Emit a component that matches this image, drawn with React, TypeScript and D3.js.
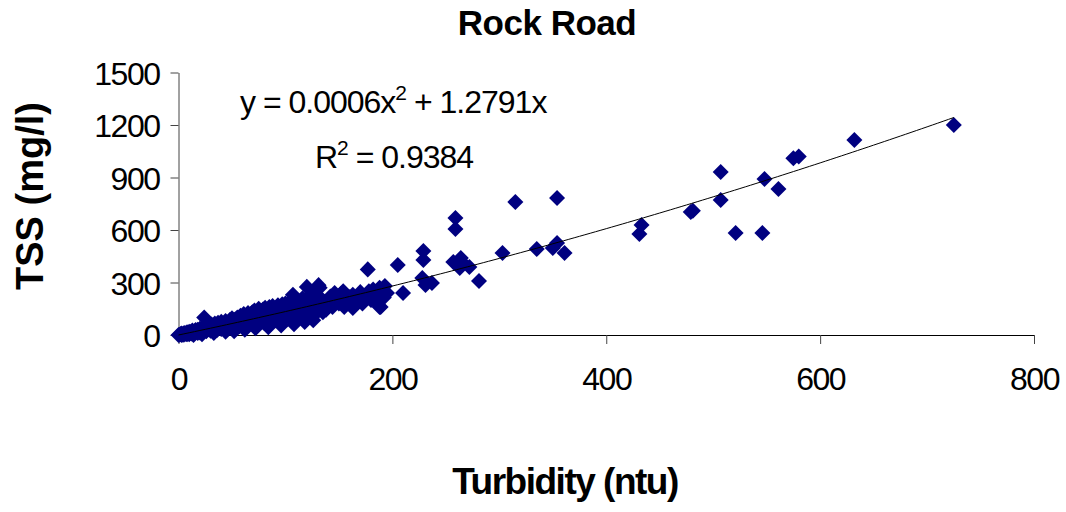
import React, { useEffect, useRef } from 'react';
import * as d3 from 'd3';

// turbidity (ntu) vs TSS (mg/l)
const turbidity = [
  0, 1, 2, 3, 3, 4, 5, 5, 6, 7, 8, 8, 9, 10, 10, 11, 12, 12, 13, 14, 15, 15, 16, 17, 18, 18, 19, 20, 20,
  21, 22, 23, 24, 25, 25, 26, 27, 28, 29, 30, 30, 31, 32, 33, 34, 35, 35, 36, 37, 38, 39, 40, 40,
  41, 42, 43, 44, 45, 45, 46, 47, 48, 49, 50, 50, 51, 52, 53, 54, 55, 55, 56, 57, 58, 58, 59, 60, 60,
  61, 62, 63, 64, 65, 65, 66, 67, 68, 69, 70, 70, 71, 72, 73, 74, 75, 75, 76, 77, 78, 79, 80, 80,
  81, 82, 83, 84, 85, 85, 86, 87, 88, 88, 89, 90, 91, 92, 93, 94, 95, 96, 97, 98, 99, 100, 100,
  102, 103, 104, 105, 106, 107, 108, 109, 110, 111, 112, 113, 114, 115, 116, 117, 118, 119, 120, 120,
  121, 122, 123, 124, 125, 126, 127, 128, 129, 130, 131, 132, 133, 134, 135,
  136, 138, 140, 142, 144, 146, 148, 150, 152, 154, 155, 157, 160, 162, 163, 165, 168, 170, 172, 175,
  177, 178, 180, 182, 184, 186, 188, 189, 190, 192, 193, 195, 188, 163, 205, 210,
  229, 229, 228, 237, 231, 259, 259, 264, 257, 266, 272, 263, 281, 303, 315, 335, 354, 350, 361, 354,
  431, 433, 479, 481, 507, 507, 521, 546, 548, 561, 575, 580, 632, 725,
  14, 22, 33, 44, 52, 62, 72, 84, 96, 108, 118, 126,
];
const tss = [
  0, 2, 5, 0, 8, 3, 10, 2, 12, 6, 15, 4, 10, 18, 5, 14, 20, 8, 25, 12, 22, 10, 28, 18, 30, 12, 24, 35, 15,
  28, 40, 20, 100, 32, 50, 22, 45, 35, 55, 25, 42, 60, 30, 48, 65, 38, 55, 28, 70, 45, 58, 35, 75,
  50, 62, 40, 80, 55, 30, 70, 48, 85, 60, 40, 95, 72, 55, 88, 45, 100, 65, 78, 50, 110, 85, 62, 95, 48,
  120, 75, 100, 58, 125, 88, 68, 110, 80, 130, 60, 100, 140, 85, 115, 70, 150, 95, 125, 80, 105, 145, 70, 120,
  155, 95, 130, 80, 160, 110, 140, 88, 165, 120, 100, 150, 85, 135, 170, 110, 145, 92, 175, 125, 155, 100, 180,
  140, 115, 190, 160, 95, 230, 135, 175, 120, 200, 150, 105, 185, 140, 210, 125, 165, 195, 275, 110,
  150, 220, 175, 130, 200, 160, 240, 120, 185, 150, 285, 270, 210, 165, 130,
  190, 145, 175, 220, 160, 240, 200, 180, 235, 250, 160, 200, 215, 170, 230, 190, 210, 245, 180, 225,
  375, 250, 200, 260, 230, 180, 270, 160, 250, 215, 280, 240, 160, 154, 400, 240,
  480, 429, 326, 297, 286, 669, 606, 440, 417, 411, 389, 383, 309, 469, 760, 491, 526, 497, 469, 783,
  577, 629, 703, 710, 931, 771, 583, 583, 891, 834, 1010, 1020, 1114, 1200,
  0, 5, 12, 18, 22, 30, 38, 45, 55, 62, 75, 85,
];

// trend line shown on the chart
const trendA = 0.0006;
const trendB = 1.2791;
const equationText = 'y = 0.0006x';
const equationTail = ' + 1.2791x';
const r2Text = ' = 0.9384';

const xTicks = [0, 200, 400, 600, 800];
const yTicks = [0, 300, 600, 900, 1200, 1500];

const W = 1066;
const H = 512;

export default function App() {
  const ref = useRef<SVGSVGElement>(null);

  useEffect(() => {
    const svg = d3.select(ref.current);
    svg.selectAll('*').remove();

    const x = d3.scaleLinear().domain([0, 800]).range([178.5, 1034]);
    const y = d3.scaleLinear().domain([0, 1500]).range([335, 72.5]);
    const font = '"Liberation Sans", Arial, sans-serif';

    // y axis
    const yAxis = svg.append('g').attr('transform', `translate(${x(0)},0)`)
      .call(d3.axisLeft(y).tickValues(yTicks).tickFormat(d3.format('d')).tickSize(8).tickSizeOuter(0).tickPadding(11));
    yAxis.select('.domain').attr('stroke', '#444');
    yAxis.selectAll('.tick line').attr('stroke', '#444');
    yAxis.selectAll('.tick text')
      .attr('font-family', font).attr('font-size', 32).attr('letter-spacing', -1.5)
      .attr('fill', '#000').attr('dy', '0.36em');

    // x axis
    const xAxis = svg.append('g').attr('transform', `translate(0,${y(0)})`)
      .call(d3.axisBottom(x).tickValues(xTicks).tickSize(9).tickSizeOuter(0).tickPadding(30));
    xAxis.select('.domain').attr('stroke', '#000');
    xAxis.selectAll('.tick line').attr('stroke', '#444');
    xAxis.selectAll('.tick text')
      .attr('font-family', font).attr('font-size', 32).attr('letter-spacing', -1.5)
      .attr('fill', '#000').attr('dy', '0.5em');

    // points
    const pts = turbidity.map((t, i) => [t, tss[i]]);
    const diamond = d3.symbol().type(d3.symbolSquare).size(128)();
    svg.append('g').selectAll('path').data(pts).join('path')
      .attr('d', diamond)
      .attr('transform', (d) => `translate(${x(d[0])},${y(d[1])}) rotate(45)`)
      .attr('fill', '#000080');

    // trend line
    const maxX = d3.max(turbidity) as number;
    const trendPts = d3.range(0, maxX + 1, 5).map((t) => [t, trendA * t * t + trendB * t]);
    svg.append('path')
      .datum(trendPts)
      .attr('fill', 'none').attr('stroke', '#000').attr('stroke-width', 1)
      .attr('d', d3.line().x((d) => x(d[0])).y((d) => y(d[1])));

    // equation labels
    const eq = svg.append('text').attr('x', 240).attr('y', 113)
      .attr('font-family', font).attr('font-size', 32).attr('letter-spacing', -1);
    eq.append('tspan').text(equationText);
    eq.append('tspan').attr('dy', -13).attr('font-size', 21).text('2');
    eq.append('tspan').attr('dy', 13).text(equationTail);

    const r2 = svg.append('text').attr('x', 315).attr('y', 168)
      .attr('font-family', font).attr('font-size', 32).attr('letter-spacing', -1);
    r2.append('tspan').text('R');
    r2.append('tspan').attr('dy', -13).attr('font-size', 21).text('2');
    r2.append('tspan').attr('dy', 13).text(r2Text);

    // titles
    svg.append('text').attr('x', 547).attr('y', 35).attr('text-anchor', 'middle')
      .attr('font-family', font).attr('font-size', 35).attr('font-weight', 'bold')
      .attr('letter-spacing', -0.5).text('Rock Road');
    svg.append('text').attr('x', 565).attr('y', 494).attr('text-anchor', 'middle')
      .attr('font-family', font).attr('font-size', 37).attr('font-weight', 'bold')
      .attr('letter-spacing', -1.5).text('Turbidity (ntu)');
    svg.append('text').attr('transform', 'translate(43,196) rotate(-90)').attr('text-anchor', 'middle')
      .attr('font-family', font).attr('font-size', 38).attr('font-weight', 'bold')
      .attr('letter-spacing', 0).text('TSS (mg/l)');
  }, []);

  return (
    <svg ref={ref} width={W} height={H}
      style={{ position: 'absolute', left: 0, top: 0, background: '#fff' }} />
  );
}
